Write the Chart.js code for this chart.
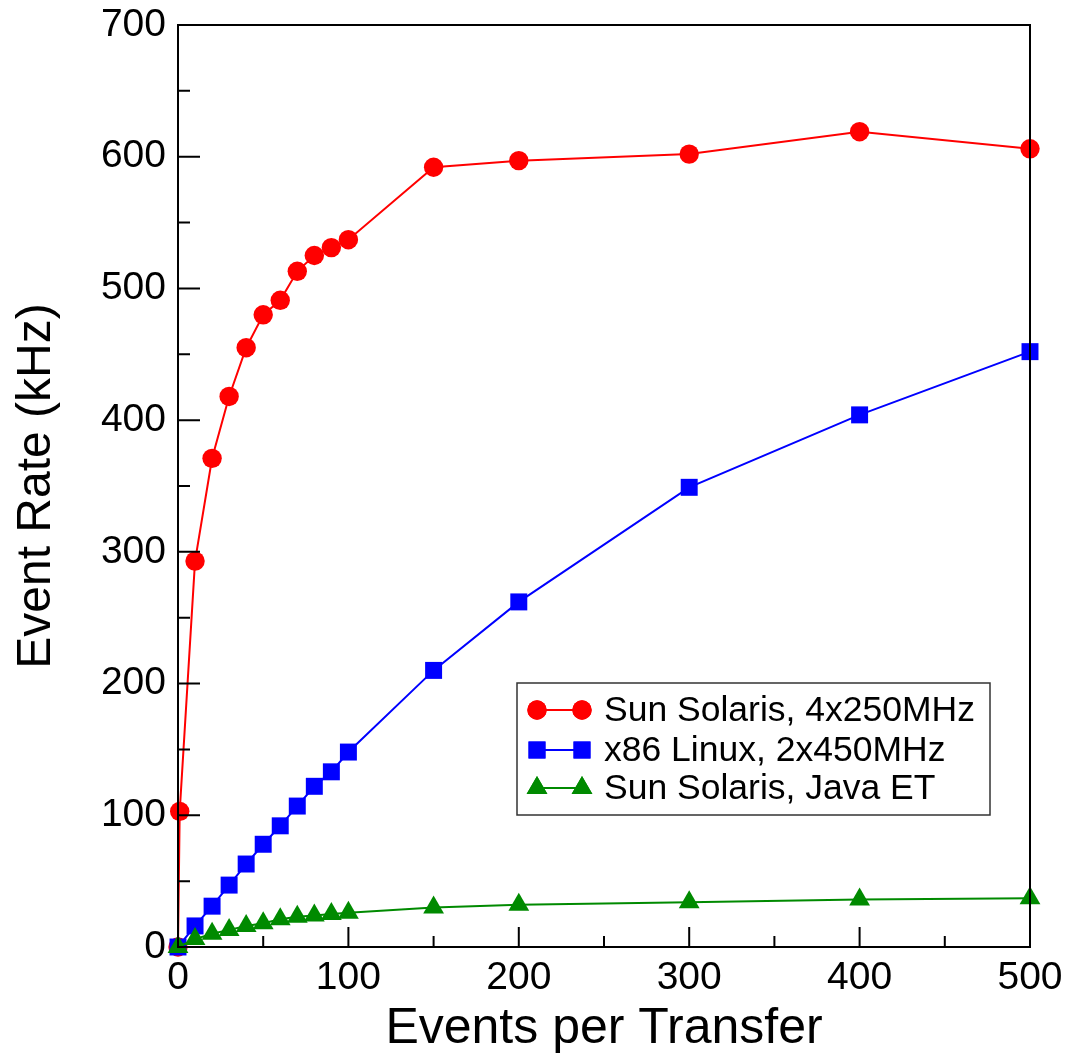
<!DOCTYPE html>
<html>
<head>
<meta charset="utf-8">
<script src="https://cdn.jsdelivr.net/npm/chart.js@4/dist/chart.umd.min.js"></script>
<style>
  html, body { margin: 0; padding: 0; background: #fff; }
  #wrap { width: 1069px; height: 1057px; }
</style>
</head>
<body>
<div id="wrap"><canvas id="chart" width="1069" height="1057"></canvas></div>
<script>
// values (kHz)
const solarisX = [0, 1, 10, 20, 30, 40, 50, 60, 70, 80, 90, 100, 150, 200, 300, 400, 500];
const solarisY = [0, 103, 293, 371, 418, 455, 480, 491, 513, 525, 531, 537, 592, 597, 602, 619, 606];

const linuxX = [0, 10, 20, 30, 40, 50, 60, 70, 80, 90, 100, 150, 200, 300, 400, 500];
const linuxY = [0, 16, 31, 47, 63, 78, 92, 107, 122, 133, 148, 210, 262, 349, 404, 452];

const javaX = [0, 10, 20, 30, 40, 50, 60, 70, 80, 90, 100, 150, 200, 300, 400, 500];
const javaY = [0, 6, 10, 13, 16, 18, 21, 23, 24, 25, 26, 30, 32, 34, 36, 37];

const seriesNames = ['Sun Solaris, 4x250MHz', 'x86 Linux, 2x450MHz', 'Sun Solaris, Java ET'];

const xTicks = [0, 100, 200, 300, 400, 500];
const yTicks = [0, 100, 200, 300, 400, 500, 600, 700];
const xMinor = [50, 150, 250, 350, 450];
const yMinor = [50, 150, 250, 350, 450, 550, 650];

const FONT = 'Liberation Sans, Arial, Helvetica, sans-serif';
const toPts = (xs, ys) => xs.map((x, i) => ({ x, y: ys[i] }));

function series(label, xs, ys, color, style, radius, order) {
  return {
    label,
    data: toPts(xs, ys),
    showLine: true,
    borderColor: color,
    backgroundColor: color,
    borderWidth: 2,
    pointStyle: style,
    pointRadius: radius,
    pointHoverRadius: radius,
    pointBorderWidth: 0,
    clip: false,
    order
  };
}

// frame + inward tick marks
const framePlugin = {
  id: 'frame',
  afterDatasetsDraw(chart) {
    const { ctx, chartArea: a, scales } = chart;
    ctx.save();
    ctx.strokeStyle = '#000';
    ctx.lineWidth = 2;
    ctx.strokeRect(a.left, a.top, a.right - a.left, a.bottom - a.top);
    ctx.beginPath();
    xTicks.forEach(v => {
      const px = scales.x.getPixelForValue(v);
      ctx.moveTo(px, a.bottom); ctx.lineTo(px, a.bottom - 20);
    });
    xMinor.forEach(v => {
      const px = scales.x.getPixelForValue(v);
      ctx.moveTo(px, a.bottom); ctx.lineTo(px, a.bottom - 11);
    });
    yTicks.forEach(v => {
      const py = scales.y.getPixelForValue(v);
      ctx.moveTo(a.left, py); ctx.lineTo(a.left + 22, py);
    });
    yMinor.forEach(v => {
      const py = scales.y.getPixelForValue(v);
      ctx.moveTo(a.left, py); ctx.lineTo(a.left + 12, py);
    });
    ctx.stroke();
    ctx.restore();
  }
};

// boxed legend inside the plot
const legendPlugin = {
  id: 'boxLegend',
  afterDraw(chart) {
    const { ctx } = chart;
    const box = { x: 517, y: 683, w: 473, h: 132 };
    ctx.save();
    ctx.fillStyle = '#fff';
    ctx.fillRect(box.x, box.y, box.w, box.h);
    ctx.strokeStyle = '#333';
    ctx.lineWidth = 1.5;
    ctx.strokeRect(box.x, box.y, box.w, box.h);
    const rows = [710, 750, 788];
    chart.data.datasets.forEach((ds, i) => {
      const y = rows[i];
      ctx.strokeStyle = ds.borderColor;
      ctx.lineWidth = 2;
      ctx.beginPath();
      ctx.moveTo(537, y); ctx.lineTo(582, y);
      ctx.stroke();
      ctx.fillStyle = ds.backgroundColor;
      [537, 582].forEach(px => {
        Chart.helpers.drawPoint(ctx, { pointStyle: ds.pointStyle, radius: ds.pointRadius, borderWidth: 0 }, px, y);
        ctx.fill();
      });
      ctx.fillStyle = '#000';
      ctx.font = '35.5px ' + FONT;
      ctx.textBaseline = 'middle';
      ctx.fillText(seriesNames[i], 604, y + 1);
    });
    ctx.restore();
  }
};

new Chart(document.getElementById('chart'), {
  type: 'scatter',
  data: {
    datasets: [
      series(seriesNames[0], solarisX, solarisY, '#ff0000', 'circle', 9.7, 3),
      series(seriesNames[1], linuxX, linuxY, '#0000ff', 'rect', 12, 2),
      series(seriesNames[2], javaX, javaY, '#008a00', 'triangle', 12, 1)
    ]
  },
  options: {
    responsive: false,
    animation: false,
    events: [],
    layout: { padding: { top: 25, right: 39, left: 0, bottom: 0 } },
    plugins: { legend: { display: false }, tooltip: { enabled: false } },
    scales: {
      x: {
        type: 'linear',
        min: 0, max: 500,
        afterBuildTicks: s => { s.ticks = xTicks.map(v => ({ value: v })); },
        afterFit: s => { s.height = 110; s.paddingLeft = 0; s.paddingRight = 0; },
        grid: { display: false, drawTicks: false },
        border: { display: false },
        ticks: { color: '#000', font: { family: FONT, size: 39 }, padding: 8, maxRotation: 0 },
        title: { display: true, text: 'Events per Transfer', color: '#000',
                 font: { family: FONT, size: 50, lineHeight: 1.1 }, padding: { top: 0, bottom: 0 } }
      },
      y: {
        type: 'linear',
        min: 0, max: 700,
        afterBuildTicks: s => { s.ticks = yTicks.map(v => ({ value: v })); },
        afterFit: s => { s.width = 178; s.paddingTop = 0; s.paddingBottom = 0; },
        grid: { display: false, drawTicks: false },
        border: { display: false },
        ticks: { color: '#000', font: { family: FONT, size: 39 }, padding: 12 },
        title: { display: true, text: 'Event Rate (kHz)', color: '#000',
                 font: { family: FONT, size: 48 }, padding: { top: 8, bottom: 0 } }
      }
    }
  },
  plugins: [framePlugin, legendPlugin]
});
</script>
</body>
</html>
